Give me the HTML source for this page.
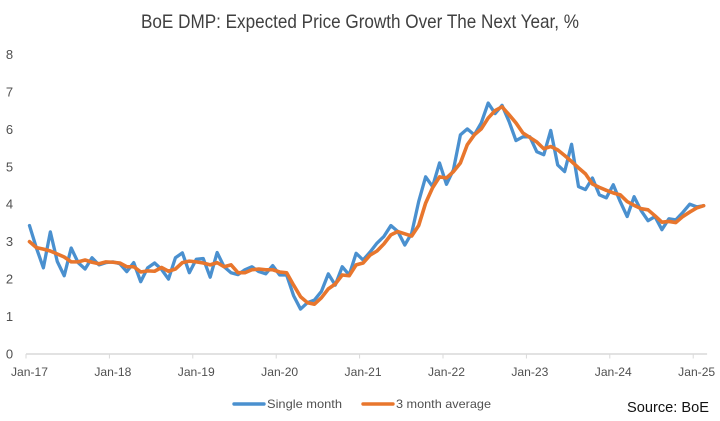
<!DOCTYPE html>
<html lang="en">
<head>
<meta charset="utf-8">
<title>BoE DMP: Expected Price Growth</title>
<style>
html,body{margin:0;padding:0;background:#fff;width:720px;height:421px;overflow:hidden}
svg{display:block;font-family:"Liberation Sans",sans-serif}
</style>
</head>
<body>
<svg id="chart" width="720" height="421" viewBox="0 0 720 421" xmlns="http://www.w3.org/2000/svg">
<rect width="720" height="421" fill="#fff"/>
<text x="360" y="28" text-anchor="middle" font-size="19.5" fill="#404040" textLength="438" lengthAdjust="spacingAndGlyphs">BoE DMP: Expected Price Growth Over The Next Year, %</text>
<g id="axes"></g>
<g id="series"></g>
<g>
<line x1="234" y1="404" x2="264" y2="404" stroke="#4a90cf" stroke-width="3.4" stroke-linecap="round"/>
<text x="267" y="408" font-size="12" fill="#505050" textLength="75" lengthAdjust="spacingAndGlyphs">Single month</text>
<line x1="363" y1="404" x2="393" y2="404" stroke="#e8762d" stroke-width="3.4" stroke-linecap="round"/>
<text x="396" y="408" font-size="12" fill="#505050" textLength="95" lengthAdjust="spacingAndGlyphs">3 month average</text>
</g>
<text x="627" y="412" font-size="15" fill="#111" textLength="82" lengthAdjust="spacingAndGlyphs">Source: BoE</text>
</svg>
<script>
var yearLabels = ["Jan-17","Jan-18","Jan-19","Jan-20","Jan-21","Jan-22","Jan-23","Jan-24","Jan-25"];
var yTicks = [0,1,2,3,4,5,6,7,8];
var singleMonth = [3.43,2.83,2.3,3.26,2.47,2.09,2.83,2.44,2.27,2.57,2.38,2.44,2.46,2.41,2.2,2.44,1.93,2.3,2.43,2.26,2.0,2.57,2.7,2.17,2.53,2.55,2.05,2.71,2.33,2.17,2.12,2.25,2.33,2.2,2.14,2.36,2.11,2.11,1.56,1.2,1.37,1.44,1.67,2.14,1.84,2.33,2.11,2.69,2.51,2.72,2.96,3.14,3.43,3.27,2.91,3.23,4.07,4.73,4.47,5.1,4.53,4.92,5.85,6.01,5.85,6.17,6.7,6.42,6.64,6.21,5.7,5.8,5.8,5.4,5.32,5.97,5.05,4.87,5.6,4.47,4.39,4.7,4.25,4.17,4.52,4.07,3.67,4.2,3.83,3.56,3.67,3.32,3.61,3.58,3.78,4.0,3.93,3.96];
var threeMonthAverage = [3.0,2.84,2.8,2.75,2.67,2.59,2.46,2.46,2.51,2.45,2.41,2.46,2.45,2.43,2.33,2.33,2.19,2.22,2.21,2.31,2.21,2.27,2.44,2.48,2.46,2.43,2.38,2.44,2.33,2.38,2.17,2.17,2.25,2.27,2.25,2.25,2.19,2.17,1.84,1.53,1.37,1.33,1.5,1.74,1.87,2.11,2.09,2.38,2.43,2.64,2.75,2.94,3.18,3.27,3.21,3.15,3.43,4.03,4.44,4.73,4.7,4.87,5.1,5.59,5.85,6.01,6.3,6.5,6.6,6.39,6.17,5.9,5.78,5.66,5.48,5.54,5.45,5.3,5.14,4.97,4.81,4.54,4.45,4.37,4.3,4.25,4.07,3.97,3.88,3.85,3.69,3.52,3.54,3.51,3.67,3.79,3.9,3.96];

var SVG_NS = "http://www.w3.org/2000/svg";
var monthWidth = 6.95;
var axisLeft = 26;
var axisBottom = 354;
var unitHeight = 37.45;
function xScale(i){ return axisLeft + monthWidth * (i + 0.5); }
function yScale(v){ return axisBottom - unitHeight * v; }
function make(tag, attrs, parent){
  var el = document.createElementNS(SVG_NS, tag);
  for (var k in attrs) el.setAttribute(k, attrs[k]);
  parent.appendChild(el);
  return el;
}
var axes = document.getElementById("axes");
var seriesGroup = document.getElementById("series");

var axisLine = make("line", {x1: axisLeft, y1: axisBottom, x2: xScale(singleMonth.length - 1) + 3.5, y2: axisBottom, stroke: "#d9d9d9", "stroke-width": 1.6}, axes);



yTicks.forEach(function(t){
  var label = make("text", {x: 9.5, y: yScale(t) + 4.5, "text-anchor": "middle", "font-size": 13, fill: "#505050"}, axes);
  label.textContent = String(t);
  
  
});

yearLabels.forEach(function(name, n){
  var idx = n * 12;
  var tickX = axisLeft + monthWidth * idx;
  var tick = make("line", {x1: tickX, y1: axisBottom, x2: tickX, y2: axisBottom + 4.5, stroke: "#d9d9d9", "stroke-width": 1}, axes);
  
  
  var label = make("text", {x: xScale(idx), y: 376, "text-anchor": "middle", "font-size": 12, fill: "#505050", textLength: 37, lengthAdjust: "spacingAndGlyphs"}, axes);
  label.textContent = name;
  
  
});

function linePoints(values){
  return values.map(function(v, i){ return xScale(i).toFixed(2) + "," + yScale(v).toFixed(2); }).join(" ");
}
var singleLine = make("polyline", {points: linePoints(singleMonth), fill: "none", stroke: "#4a90cf", "stroke-width": 3.3, "stroke-linejoin": "round", "stroke-linecap": "round"}, seriesGroup);


var averageLine = make("polyline", {points: linePoints(threeMonthAverage), fill: "none", stroke: "#e8762d", "stroke-width": 3.6, "stroke-linejoin": "round", "stroke-linecap": "round"}, seriesGroup);


</script>
</body>
</html>
